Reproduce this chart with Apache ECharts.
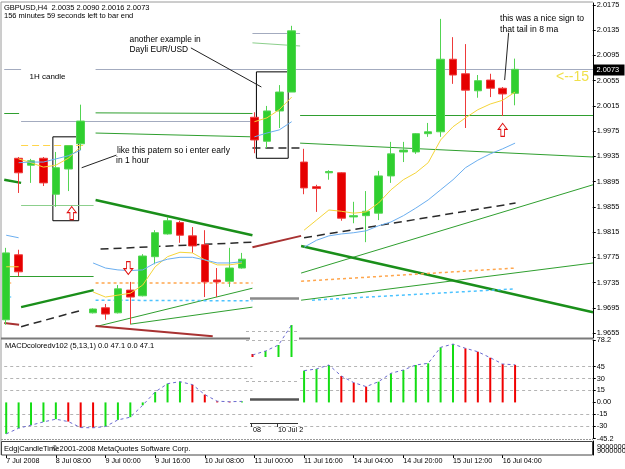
<!DOCTYPE html>
<html><head><meta charset="utf-8">
<script src="https://cdn.jsdelivr.net/npm/echarts@6/dist/echarts.min.js"></script>
<style>html,body{margin:0;padding:0;background:#fff}#c{width:625px;height:469px}</style>
</head><body><div id="c"></div>
<script>
// ---------- categories (H4 bars) ----------
const categories = ["7 Jul 2008","7 Jul 20:00","8 Jul 00:00","8 Jul 04:00","8 Jul 08:00","8 Jul 12:00","8 Jul 16:00","8 Jul 20:00",
 "9 Jul 00:00","9 Jul 04:00","9 Jul 08:00","9 Jul 12:00","9 Jul 16:00","9 Jul 20:00","10 Jul 00:00","10 Jul 04:00",
 "10 Jul 08:00","10 Jul 12:00","10 Jul 16:00","10 Jul 20:00","11 Jul 00:00","11 Jul 04:00","11 Jul 08:00","11 Jul 12:00",
 "11 Jul 16:00","11 Jul 20:00","13 Jul 20:00","14 Jul 00:00","14 Jul 04:00","14 Jul 08:00","14 Jul 12:00","14 Jul 16:00",
 "14 Jul 20:00","15 Jul 00:00","15 Jul 04:00","15 Jul 08:00","15 Jul 12:00","15 Jul 16:00","15 Jul 20:00","16 Jul 00:00",
 "16 Jul 04:00","16 Jul 08:00","16 Jul 12:00","16 Jul 16:00","16 Jul 20:00","17 Jul 00:00","17 Jul 04:00","17 Jul 08:00"];
const priceTicks = [2.0175,2.0135,2.0095,2.0055,2.0015,1.9975,1.9935,1.9895,1.9855,1.9815,1.9775,1.9735,1.9695,1.9655];
const macdTicks = [78.2,45,30,15,0,-15,-30,-45.2];
const bidPrice = 2.0073;

// ---------- candles [open, close, low, high] per pasted piece ----------
const llStart = 0;
const llCandles = [[1.9676,1.9782,1.9668,1.9790],[1.9779,1.9752,1.9745,1.9787]];
const ulStart = 1;
const ulCandles = [[1.9932,1.9909,1.9877,1.9934],[1.9921,1.9928,1.9893,1.9931],[1.9932,1.9893,1.9888,1.9934],
 [1.9875,1.9917,1.9855,1.9942],[1.9915,1.9952,1.9880,1.9952],[1.9955,1.9991,1.9945,2.0017]];
const midStart = 7;
const midCandles = [[1.9687,1.9693,1.9686,1.9694],[1.9695,1.9685,1.9676,1.9701],[1.9687,1.9725,1.9686,1.9731],
 [1.9723,1.9712,1.9669,1.9736],[1.9714,1.9777,1.9713,1.9780],[1.9776,1.9814,1.9764,1.9818],[1.9812,1.9833,1.9811,1.9839],
 [1.9830,1.9810,1.9798,1.9833],[1.9809,1.9793,1.9782,1.9823],[1.9795,1.9736,1.9712,1.9818],[1.9739,1.9736,1.9712,1.9758],
 [1.9737,1.9758,1.9728,1.9790],[1.9758,1.9772,1.9757,1.9782]];
const umStart = 20;
const umCandles = [[1.9997,1.9961,1.9940,2.0005],[1.9959,2.0007,1.9948,2.0015],[2.0007,2.0037,1.9980,2.0048],[2.0037,2.0134,2.0037,2.0142]];
const rStart = 24;
const rCandles = [[1.9926,1.9885,1.9875,1.9947],[1.9887,1.9884,1.9847,1.9890],[1.9909,1.9911,1.9898,1.9913],[1.9909,1.9837,1.9833,1.9910],
 [1.9839,1.9841,1.9829,1.9863],[1.9841,1.9848,1.9799,1.9880],[1.9845,1.9904,1.9834,1.9912],[1.9904,1.9939,1.9893,1.9958],
 [1.9942,1.9945,1.9926,1.9958],[1.9942,1.9971,1.9939,1.9972],[1.9971,1.9974,1.9966,1.9988],[1.9974,2.0089,1.9966,2.0153],
 [2.0089,2.0064,2.0050,2.0124],[2.0066,2.0040,1.9980,2.0113],[2.0039,2.0055,2.0028,2.0064],[2.0056,2.0043,2.0029,2.0066],
 [2.0043,2.0034,1.9999,2.0045],[2.0035,2.0073,2.0016,2.0090]];

// ---------- moving averages ----------
const maYellowLL = [1.9760,1.9760];
const maYellowUL = [1.9931,1.9925,1.9918,1.9921,1.9932,1.9950];
const maYellowMid = [1.9720,1.9712,1.9715,1.9718,1.9731,1.9760,1.9776,1.9783,1.9782,1.9771,1.9763,1.9763,1.9766];
const maYellowUM = [1.9990,1.9996,2.0009,2.0029];
const maYellowR = [1.9818,1.9834,1.9850,1.9848,1.9845,1.9847,1.9861,1.9882,1.9898,1.9909,1.9925,1.9961,1.9982,1.9996,2.0009,2.0018,2.0024,2.0037];
const maBlueLL = [1.9810,1.9806];
const maBlueUL = [1.9925,1.9926,1.9926,1.9931,1.9936,1.9945];
const maBlueMid = [1.9766,1.9758,1.9755,1.9754,1.9755,1.9766,1.9772,1.9775,1.9775,1.9771,1.9766,1.9766,1.9768];
const maBlueUM = [1.9966,1.9972,1.9977,1.9990];
const maBlueR = [1.9791,1.9802,1.9809,1.9812,1.9814,1.9817,1.9825,1.9831,1.9841,1.9853,1.9866,1.9882,1.9898,1.9917,1.9929,1.9939,1.9947,1.9956];

// ---------- drawn objects [barIndex1, price1, barIndex2, price2] ----------
const grayLines = [[-0.16,bidPrice,1.2,bidPrice],[7.2,bidPrice,47.28,bidPrice],[1.2,1.9991,19.84,1.9991],[19.84,2.0131,23.68,2.0131]];
const greenThinLines = [[-0.16,2.0004,1.04,2.0004],[7.2,2.0004,19.84,2.0003],[7.2,1.9972,19.84,1.9966],[23.68,2.0001,47.28,2.0001],
 [23.68,1.9956,47.28,1.9934],[23.76,1.9750,47.28,1.9890],[23.76,1.9707,47.28,1.9766],[7.2,1.9665,19.84,1.9726],[10.0,1.9669,19.84,1.9696],
 [0.24,1.9745,7.04,1.9745]];
const greenLightLines = [[19.84,2.0115,23.68,2.0110],[1.2,1.9858,7.04,1.9858]];
const greenThickLines = [[-0.16,1.9898,1.2,1.9893],[7.2,1.9866,19.84,1.9810],[23.76,1.9793,47.28,1.9688],[1.2,1.9696,7.04,1.9723]];
const blackDashedLines = [[7.6,1.9788,19.84,1.9799],[24.0,1.9806,41.04,1.9861],[1.2,1.9665,6.24,1.9692],[19.84,1.9948,23.68,1.9948]];
const yellowDashedLines = [[1.2,1.9952,6.32,1.9952]];
const orangeDottedLines = [[-0.16,1.9734,0.4,1.9734],[7.2,1.9734,19.84,1.9734],[23.76,1.9737,41.04,1.9758]];
const cyanDottedLines = [[-0.16,1.9712,0.4,1.9712],[7.2,1.9707,19.84,1.9706],[24.64,1.9707,41.04,1.9725]];
const darkRedLines = [[-0.16,1.9671,1.04,1.9668],[19.84,1.9791,23.76,1.9809],[7.2,1.9666,16.64,1.9650]];
const leaderLines = [[14.88,2.0107,20.56,2.0045],[6.08,1.9917,8.88,1.9937],[40.48,2.0131,40.16,2.0056]];
const boxes = [[3.76,1.9966,5.84,1.9833],[20.16,2.0069,22.72,1.9932]];
const upArrows = [[5.28,1.9845],[40.0,1.9977]];
const downArrows = [[9.84,1.9758]];

// ---------- MACD ----------
const macdLeft = [-39.4,-32.3,-28.5,-24.4,-21,-24,-31.5,-31.8,-30.2,-21.9,-18.5,-3.5,13.1,23.5,26,22.3,9.8,1.5,0.9,1.3];
const macdRightStart = 24;
const macdRight = [39.8,41.9,46.9,33.1,24.8,19.8,26.0,36.5,40.6,46.9,49.0,69.0,73.1,67.8,63.5,56.0,48.1,47.1];
const macdLevelsSplit = [45,30,15];
const macdLevelsFull = [-15,-30];
const pieceGap = [19.84,23.68];
// pasted small MACD fragment
const pieceCats = ["a","b","c","d"];
const pieceBars = [3.75,7.5,15,40];
const pieceLine = [2.5,7.5,15,40];
const pieceLevels = [31.6,20.4,-30.9];

// ---------- build ----------
const N = categories.length;
function pad(start, arr){ const out = new Array(N).fill('-'); arr.forEach((v,i)=>{ out[start+i]=v; }); return out; }
function seg(list){ return list.map(s=>({coords:[[s[0],s[1]],[s[2],s[3]]]})); }
const macdAll = pad(0, macdLeft); macdRight.forEach((v,i)=>{ macdAll[macdRightStart+i]=v; });

const GREEN='#2fcf2f', RED='#e50000';
function barColor(arr, firstUp){
  return function(p){ const i=p.dataIndex, v=arr[i], prev=arr[i-1];
    const up = (prev===undefined||prev==='-') ? firstUp : v>=prev; return up?'#14dd14':'#f00000'; };
}
const F = '"Liberation Sans", Arial, sans-serif';
const candleStyle = {color:GREEN, color0:RED, borderColor:'#52d452', borderColor0:'#ee3a3a', borderWidth:1};
function candle(start, arr){ return {type:'candlestick', xAxisIndex:0, yAxisIndex:0, barWidth:8, itemStyle:candleStyle,
  data: pad(start, arr).map(v=> v==='-'?['-','-','-','-']:v), silent:true, z:3}; }
function ma(start, arr, color){ return {type:'line', xAxisIndex:0, yAxisIndex:0, data:pad(start,arr), symbol:'none',
  lineStyle:{color, width:1}, silent:true, z:4}; }
function lns(list, style, extra){ return Object.assign({type:'lines', coordinateSystem:'cartesian2d', xAxisIndex:1, yAxisIndex:0,
  polyline:false, symbol:['none','none'], silent:true, lineStyle:Object.assign({opacity:1}, style), data:seg(list), z:2}, extra||{}); }
function macdLevelSegs(){
  const out=[];
  macdLevelsSplit.forEach(l=>{ out.push([-0.16,l,pieceGap[0],l]); out.push([pieceGap[1],l,47.28,l]); });
  macdLevelsFull.forEach(l=>{ out.push([-0.16,l,47.28,l]); });
  return out;
}
const labelShown = (i)=> i%4===0 && i<=40;
const arrowPath = 'path://M5,0 L10,6 L7,6 L7,13 L3,13 L3,6 L0,6 Z';

const GL=-4.25, GR=29.25;
const option = {
  animation:false,
  backgroundColor:'#fff',
  grid:[
    {left:GL, right:GR, top:3, height:335},
    {left:GL, right:GR, top:340, height:98.5},
    {left:GL, right:GR, top:441, height:14},
    {left:246, width:52, top:300, height:98}
  ],
  xAxis:[
    {type:'category', gridIndex:0, data:categories, show:false},
    {type:'value', gridIndex:0, min:-0.5, max:N-0.5, show:false},
    {type:'category', gridIndex:1, data:categories, show:false},
    {type:'value', gridIndex:1, min:-0.5, max:N-0.5, show:false},
    {type:'category', gridIndex:2, data:categories, axisLine:{show:false, onZero:false},
      axisTick:{show:true, interval:labelShown, alignWithLabel:true, length:3, lineStyle:{color:'#000'}},
      axisLabel:{interval:labelShown, align:'left', fontSize:7.2, fontFamily:F, color:'#000', margin:3}},
    {type:'category', gridIndex:3, data:pieceCats, show:false}
  ],
  yAxis:[
    {type:'value', gridIndex:0, position:'right', offset:-3, min:1.964707, max:2.017817, splitLine:{show:false},
      axisLine:{show:true, onZero:false, lineStyle:{color:'#000'}},
      axisTick:{show:true, customValues:priceTicks, length:3, lineStyle:{color:'#000'}},
      axisLabel:{customValues:priceTicks, formatter:v=>v.toFixed(4), fontSize:7.4, fontFamily:F, color:'#000', margin:4}},
    {type:'value', gridIndex:1, position:'right', offset:-3, min:-45.2, max:78.2, splitLine:{show:false},
      axisLine:{show:true, onZero:false, lineStyle:{color:'#000'}},
      axisTick:{show:true, customValues:macdTicks, length:3, lineStyle:{color:'#000'}},
      axisLabel:{customValues:macdTicks, formatter:v=> v===0?'0.00':String(v), fontSize:7.4, fontFamily:F, color:'#000', margin:4}},
    {type:'value', gridIndex:2, position:'right', offset:-3, show:true, splitLine:{show:false},
      axisLine:{show:true, onZero:false, lineStyle:{color:'#000'}}, axisTick:{show:false}, axisLabel:{show:false}},
    {type:'value', gridIndex:3, min:-51.25, max:71.25, show:false, axisLine:{onZero:false}}
  ],
  series:[
    lns(grayLines, {color:'#a3abbf', width:1}),
    lns(greenLightLines, {color:'#8ccf8c', width:1}),
    lns(greenThinLines, {color:'#2f9f2f', width:1}),
    lns(greenThickLines, {color:'#1a8f1a', width:2.5}),
    lns(blackDashedLines, {color:'#2a2a2a', width:1.5, type:[8,5]}),
    lns(yellowDashedLines, {color:'#ffd54a', width:1.2, type:[7,4]}),
    lns(orangeDottedLines, {color:'#ffa64d', width:1.5, type:[3,3]}),
    lns(cyanDottedLines, {color:'#4dc3ff', width:1.5, type:[3,3]}),
    lns(darkRedLines, {color:'#a83232', width:2}),
    lns(leaderLines, {color:'#222', width:1}, {z:6, markArea:{silent:true, itemStyle:{color:'rgba(0,0,0,0)', borderColor:'#000', borderWidth:1},
      data: boxes.map(b=>[{coord:[b[0],b[1]]},{coord:[b[2],b[3]]}])}}),
    candle(llStart, llCandles), candle(ulStart, ulCandles), candle(midStart, midCandles), candle(umStart, umCandles), candle(rStart, rCandles),
    ma(llStart, maYellowLL, '#f5d53a'), ma(ulStart, maYellowUL, '#f5d53a'), ma(midStart, maYellowMid, '#f5d53a'), ma(umStart, maYellowUM, '#f5d53a'), ma(rStart, maYellowR, '#f5d53a'),
    ma(llStart, maBlueLL, '#6aaef0'), ma(ulStart, maBlueUL, '#6aaef0'), ma(midStart, maBlueMid, '#6aaef0'), ma(umStart, maBlueUM, '#6aaef0'), ma(rStart, maBlueR, '#6aaef0'),
    {type:'scatter', xAxisIndex:1, yAxisIndex:0, symbol:arrowPath, symbolSize:[9,13], silent:true, z:7,
      itemStyle:{color:'#fff', borderColor:'#e01010', borderWidth:1, opacity:1}, data:upArrows},
    {type:'scatter', xAxisIndex:1, yAxisIndex:0, symbol:arrowPath, symbolSize:[9,13], symbolRotate:180, silent:true, z:7,
      itemStyle:{color:'#fff', borderColor:'#e01010', borderWidth:1, opacity:1}, data:downArrows},
    // MACD
    {type:'lines', coordinateSystem:'cartesian2d', xAxisIndex:3, yAxisIndex:1, polyline:false, symbol:['none','none'], silent:true,
      lineStyle:{color:'#b4b4b4', width:1, type:[3,3], opacity:1}, data:seg(macdLevelSegs()), z:1},
    {type:'bar', xAxisIndex:2, yAxisIndex:1, data:macdAll, barWidth:2, silent:true, itemStyle:{color:barColor(macdAll,true)}, z:3},
    {type:'line', xAxisIndex:2, yAxisIndex:1, data:macdAll, symbol:'none', silent:true, lineStyle:{color:'#6a6ad0', width:1, type:[3,3]}, z:4},
    // pasted fragment
    {type:'bar', xAxisIndex:5, yAxisIndex:3, data:pieceBars, barWidth:2, silent:true, itemStyle:{color:barColor(pieceBars,false)}, z:3,
      markLine:{silent:true, symbol:['none','none'], label:{show:false}, lineStyle:{color:'#b4b4b4', width:1, type:[3,3]},
        data:pieceLevels.map(v=>({yAxis:v}))}},
    {type:'line', xAxisIndex:5, yAxisIndex:3, data:pieceLine, symbol:'none', silent:true, lineStyle:{color:'#6a6ad0', width:1, type:[3,3]}, z:4}
  ],
  graphic:{elements:[
    {type:'line', shape:{x1:1,y1:2,x2:593,y2:2}, style:{stroke:'#9a9a9a', lineWidth:1}, z:50},
    {type:'line', shape:{x1:1,y1:2,x2:1,y2:455}, style:{stroke:'#9a9a9a', lineWidth:1}, z:50},
    {type:'line', shape:{x1:1,y1:338.5,x2:250,y2:338.5}, style:{stroke:'#7a7a7a', lineWidth:2}, z:50},
    {type:'line', shape:{x1:299,y1:338.5,x2:593,y2:338.5}, style:{stroke:'#7a7a7a', lineWidth:2}, z:50},
    {type:'line', shape:{x1:1,y1:439.5,x2:593,y2:439.5}, style:{stroke:'#9a9a9a', lineWidth:1, lineDash:[2,1]}, z:50},
    {type:'rect', shape:{x:1.5,y:441.5,width:591,height:13.5}, style:{fill:'none', stroke:'#444', lineWidth:1}, z:50},
    {type:'line', shape:{x1:250,y1:298.5,x2:299,y2:298.5}, style:{stroke:'#8a8a8a', lineWidth:2.5}, z:50},
    {type:'line', shape:{x1:250,y1:399.5,x2:299,y2:399.5}, style:{stroke:'#555', lineWidth:2.5}, z:50},
    {type:'line', shape:{x1:250,y1:423.5,x2:298,y2:423.5}, style:{stroke:'#333', lineWidth:1}, z:50},
    {type:'line', shape:{x1:251.5,y1:423.5,x2:251.5,y2:427}, style:{stroke:'#333', lineWidth:1}, z:50},
    {type:'line', shape:{x1:277.5,y1:423.5,x2:277.5,y2:427}, style:{stroke:'#333', lineWidth:1}, z:50},
    {type:'text', x:253, y:430, style:{text:'08', fill:'#000', font:'7.2px '+F, verticalAlign:'middle'}, z:50},
    {type:'text', x:278, y:430, style:{text:'10 Jul 2', fill:'#000', font:'7.2px '+F, verticalAlign:'middle'}, z:50},
    {type:'text', x:4, y:7.5, style:{text:'GBPUSD,H4  2.0035 2.0090 2.0016 2.0073', fill:'#000', font:'7.5px '+F, verticalAlign:'middle'}, z:50},
    {type:'text', x:4, y:15.5, style:{text:'156 minutes 59 seconds left to bar end', fill:'#000', font:'7.5px '+F, verticalAlign:'middle'}, z:50},
    {type:'text', x:29.5, y:77, style:{text:'1H candle', fill:'#000', font:'8px '+F, verticalAlign:'middle'}, z:50},
    {type:'text', x:129.5, y:39.5, style:{text:'another example in', fill:'#000', font:'8.4px '+F, verticalAlign:'middle'}, z:50},
    {type:'text', x:129.5, y:50, style:{text:'Dayli EUR/USD', fill:'#000', font:'8.4px '+F, verticalAlign:'middle'}, z:50},
    {type:'text', x:117, y:151, style:{text:'like this patern so i enter early', fill:'#000', font:'8.5px '+F, verticalAlign:'middle'}, z:50},
    {type:'text', x:116, y:161, style:{text:'in 1 hour', fill:'#000', font:'8.5px '+F, verticalAlign:'middle'}, z:50},
    {type:'text', x:500, y:18.5, style:{text:'this was a nice sign to', fill:'#000', font:'8.6px '+F, verticalAlign:'middle'}, z:50},
    {type:'text', x:500, y:30, style:{text:'that tail in 8 ma', fill:'#000', font:'8.6px '+F, verticalAlign:'middle'}, z:50},
    {type:'text', x:556, y:77, style:{text:'<--15', fill:'#f0e04a', font:'14px '+F, verticalAlign:'middle'}, z:50},
    {type:'rect', shape:{x:593.5,y:64.5,width:31,height:11}, style:{fill:'#000'}, z:60},
    {type:'text', x:596.5, y:70.2, style:{text:'2.0073', fill:'#fff', font:'7.4px '+F, verticalAlign:'middle'}, z:61},
    {type:'text', x:5, y:346, style:{text:'MACDcoloredv102 (5,13,1) 0.0 47.1 0.0 47.1', fill:'#000', font:'7.5px '+F, verticalAlign:'middle'}, z:50},
    {type:'text', x:4, y:449, style:{text:'Edg|CandleTime', fill:'#000', font:'7.5px '+F, verticalAlign:'middle'}, z:50},
    {type:'text', x:52, y:449, style:{text:'\u00a9 2001-2008 MetaQuotes Software Corp.', fill:'#000', font:'7.5px '+F, verticalAlign:'middle'}, z:50},
    {type:'text', x:597, y:446.5, style:{text:'9000000', fill:'#000', font:'7.4px '+F, verticalAlign:'middle'}, z:50},
    {type:'text', x:597, y:450.5, style:{text:'9000000', fill:'#000', font:'7.4px '+F, verticalAlign:'middle'}, z:50}
  ]}
};
const chart = echarts.init(document.getElementById('c'));
chart.setOption(option);
</script></body></html>
